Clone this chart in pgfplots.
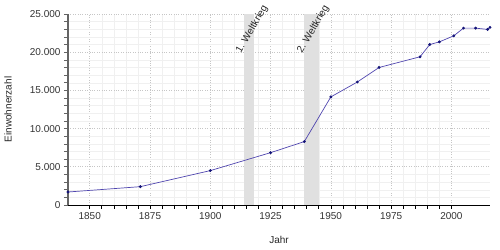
\documentclass[border=0pt]{standalone}
\usepackage{pgfplots}
\pgfplotsset{compat=1.18}
\usepackage{fontspec}
\setmainfont{Liberation Sans}
\definecolor{linecol}{RGB}{80,70,175}
\definecolor{markcol}{RGB}{20,20,120}
\definecolor{bandcol}{RGB}{224,224,224}
\definecolor{yaxcol}{RGB}{100,100,100}
\begin{document}
\begin{tikzpicture}
\begin{axis}[
  name=ax, at={(0,0)}, anchor=south west,
  scale only axis, width=422pt, height=191pt,
  xmin=1841, xmax=2016, ymin=0, ymax=25000,
  axis x line*=bottom, axis y line*=left,
  x axis line style={black, line width=0.8pt, -},
  y axis line style={yaxcol, line width=1.6pt, -},
  xtick={1850,1875,1900,1925,1950,1975,2000},
  ytick={0,5000,10000,15000,20000,25000},
  minor x tick num=4, minor y tick num=4,
  tick align=outside, major tick length=4pt, minor tick length=4pt,
  x tick style={black, line width=0.6pt},
  y tick style={yaxcol, line width=0.6pt},
  grid=both,
  major grid style={dotted, gray!45, line width=0.6pt},
  minor grid style={gray!12, line width=0.4pt},
  scaled y ticks=false,
  yticklabel style={/pgf/number format/.cd, 1000 sep={.}, assume math mode=true},
  xticklabel style={/pgf/number format/.cd, 1000 sep={}, assume math mode=true},
  ticklabel style={font=\fontsize{10}{12}\selectfont, text=black!80},
  label style={font=\fontsize{10}{12}\selectfont, text=black!85},
  xlabel={Jahr}, ylabel={Einwohnerzahl},
  xlabel style={at={(axis description cs:0.5,0)}, anchor=center, yshift=-35pt},
  ylabel style={at={(axis description cs:-0.142,0.5)}, anchor=center},
  clip=false,
]
\addplot[fill=bandcol, draw=none] coordinates {(1914,0) (1918,0) (1918,25000) (1914,25000)} -- cycle;
\addplot[fill=bandcol, draw=none] coordinates {(1939,0) (1945,0) (1945,25000) (1939,25000)} -- cycle;
\node[rotate=60, anchor=center, font=\fontsize{10}{12}\selectfont, text=black!85] at (axis cs:1917.3,23000) {1. Weltkrieg};
\node[rotate=60, anchor=center, font=\fontsize{10}{12}\selectfont, text=black!85] at (axis cs:1942.7,23000) {2. Weltkrieg};
\addplot[color=linecol, line width=0.7pt, mark=*, mark size=1.1pt,
  mark options={fill=markcol, draw=markcol}] coordinates {
(1841,1700)
(1871,2400)
(1900,4500)
(1925,6850)
(1939,8300)
(1950,14150)
(1961,16100)
(1970,18000)
(1987,19400)
(1991,21000)
(1995,21350)
(2001,22150)
(2005,23150)
(2010,23150)
(2015,22980)
(2016,23250)
};
\end{axis}
\pgfresetboundingbox
\path[use as bounding box] ([xshift=-68pt,yshift=-45pt]ax.south west) rectangle ([xshift=10pt,yshift=14pt]ax.north east);
\end{tikzpicture}
\end{document}
